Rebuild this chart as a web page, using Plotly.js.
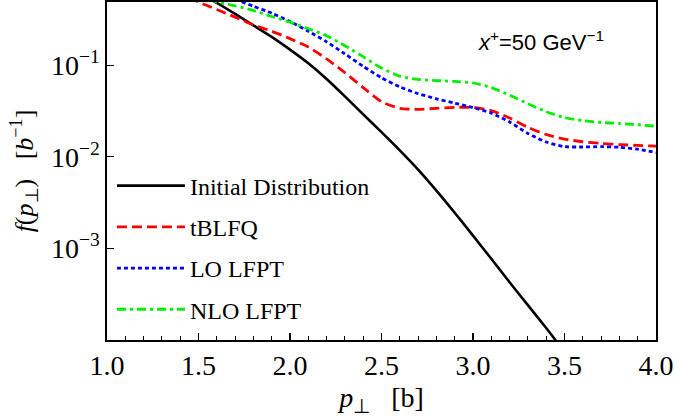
<!DOCTYPE html>
<html>
<head>
<meta charset="utf-8">
<script src="https://cdn.plot.ly/plotly-3.0.1.min.js"></script>
<style>
  html, body { margin: 0; padding: 0; background: #fff; }
  #chart { width: 675px; height: 417px; }
</style>
</head>
<body>
<div id="chart"></div>
<script>
// transverse momentum grid [b]
const pT = [1.45, 1.5, 1.55, 1.6, 1.7, 1.8, 1.9, 2.0, 2.1, 2.2, 2.3, 2.4, 2.5, 2.6, 2.7, 2.8, 2.9,
            3.0, 3.1, 3.2, 3.3, 3.4, 3.5, 3.6, 3.7, 3.8, 3.9, 4.0];

// grid for the initial distribution (it leaves the frame near 3.45)
const pTInitial = [1.5, 1.6, 1.7, 1.8, 1.9, 2.0, 2.1, 2.2, 2.3, 2.4, 2.5, 2.6, 2.7, 2.8, 2.9,
                   3.0, 3.1, 3.2, 3.3, 3.4, 3.5];

// initial distribution f(p_perp)
const initialDist = [0.617, 0.479, 0.363, 0.272, 0.204, 0.148, 0.105, 0.0708, 0.0457, 0.0290,
                     0.0186, 0.01175, 0.00724, 0.00427, 0.00245, 0.00138, 0.000770, 0.000427,
                     0.000240, 0.000135, 0.0000741];

// tBLFQ evolution
const tblfq = [0.56, 0.49, 0.445, 0.405, 0.335, 0.275, 0.235, 0.195, 0.158, 0.117, 0.083, 0.057,
               0.040, 0.0338, 0.0330, 0.0338, 0.0347, 0.0345, 0.0320, 0.0265, 0.0210, 0.0175,
               0.0156, 0.0146, 0.0140, 0.0136, 0.0133, 0.0131];

// leading-order light-front perturbation theory
const loLfpt = [0.80, 0.76, 0.70, 0.64, 0.53, 0.44, 0.37, 0.30, 0.235, 0.18, 0.133, 0.097,
                0.073, 0.058, 0.049, 0.043, 0.0385, 0.0345, 0.030, 0.024, 0.018, 0.0145,
                0.0129, 0.0128, 0.0129, 0.0127, 0.0121, 0.0111];

// next-to-leading-order light-front perturbation theory
const nloLfpt = [0.60, 0.56, 0.525, 0.49, 0.445, 0.395, 0.34, 0.295, 0.25, 0.21, 0.163, 0.124,
                 0.093, 0.076, 0.070, 0.068, 0.0665, 0.064, 0.057, 0.047, 0.038, 0.031,
                 0.0268, 0.0248, 0.0237, 0.0231, 0.0224, 0.0216];

const seriesNames = ['Initial Distribution', 'tBLFQ', 'LO LFPT', 'NLO LFPT'];

const xTicks = [1.0, 1.5, 2.0, 2.5, 3.0, 3.5, 4.0];
const xTickText = ['1.0', '1.5', '2.0', '2.5', '3.0', '3.5', '4.0'];
const yTicks = [1e-3, 1e-2, 1e-1];
const yTickText = ['10<sup>\u22123</sup>', '10<sup>\u22122</sup>', '10<sup>\u22121</sup>'];

const serif = 'Liberation Serif, Times New Roman, serif';

const traces = [
  {x: pTInitial, y: initialDist, name: seriesNames[0], line: {color: '#000000', width: 2.6}},
  {x: pT, y: tblfq,   name: seriesNames[1], line: {color: '#ff0000', width: 2.8, dash: '10px,5px'}},
  {x: pT, y: loLfpt,  name: seriesNames[2], line: {color: '#0000ff', width: 2.8, dash: '4px,3px'}},
  {x: pT, y: nloLfpt, name: seriesNames[3], line: {color: '#00f000', width: 2.8, dash: '9px,4px,3px,4px'}}
].map((t, i) => Object.assign({type: 'scatter', mode: 'lines', legendgroup: 'g' + i}, t,
      {line: Object.assign({shape: 'spline', smoothing: 0.6}, t.line)}));

const layout = {
  width: 675, height: 417,
  margin: {l: 107, r: 19, t: 2, b: 77},
  paper_bgcolor: '#ffffff', plot_bgcolor: '#ffffff',
  font: {family: serif, size: 24, color: '#000'},
  showlegend: true,
  legend: {
    x: 0.009, y: 0.522, xanchor: 'left', yanchor: 'top',
    bgcolor: 'rgba(0,0,0,0)', borderwidth: 0,
    font: {family: serif, size: 24, color: '#000'},
    traceorder: 'grouped', tracegroupgap: 7, itemwidth: 68
  },
  xaxis: {
    range: [1.0, 4.0],
    tickmode: 'array', tickvals: xTicks, ticktext: xTickText,
    ticks: 'inside', ticklen: 7, tickwidth: 1.3, tickcolor: '#000',
    minor: {dtick: 0.1, ticks: 'inside', ticklen: 4, tickwidth: 1, tickcolor: '#000'},
    showline: true, linecolor: '#000', linewidth: 1.6, mirror: true,
    showgrid: false, zeroline: false,
    tickfont: {family: serif, size: 28, color: '#000'},
    title: {text: '<i>p</i><sub>\u22a5</sub>   [b]', font: {family: serif, size: 28, color: '#000'}, standoff: 10}
  },
  yaxis: {
    type: 'log', range: [-4.0, -0.31],
    tickmode: 'array', tickvals: yTicks, ticktext: yTickText,
    ticks: 'inside', ticklen: 7, tickwidth: 1.3, tickcolor: '#000',
    showline: true, linecolor: '#000', linewidth: 1.6, mirror: true,
    showgrid: false, zeroline: false,
    tickfont: {family: serif, size: 28, color: '#000'},
    title: {text: '<i>f</i>(<i>p</i><sub>\u22a5</sub>)   [<i>b</i><sup>\u22121</sup>]', font: {family: serif, size: 26, color: '#000'}, standoff: 10}
  },
  annotations: [{
    xref: 'paper', yref: 'paper', x: 0.79, y: 0.885, xanchor: 'center', yanchor: 'middle',
    text: '<i>x</i><sup>+</sup>=50 GeV<sup>\u22121</sup>', showarrow: false,
    font: {family: 'Liberation Sans, Arial, sans-serif', size: 22, color: '#000'}
  }]
};

Plotly.newPlot('chart', traces, layout, {staticPlot: true, displayModeBar: false});
</script>
</body>
</html>
